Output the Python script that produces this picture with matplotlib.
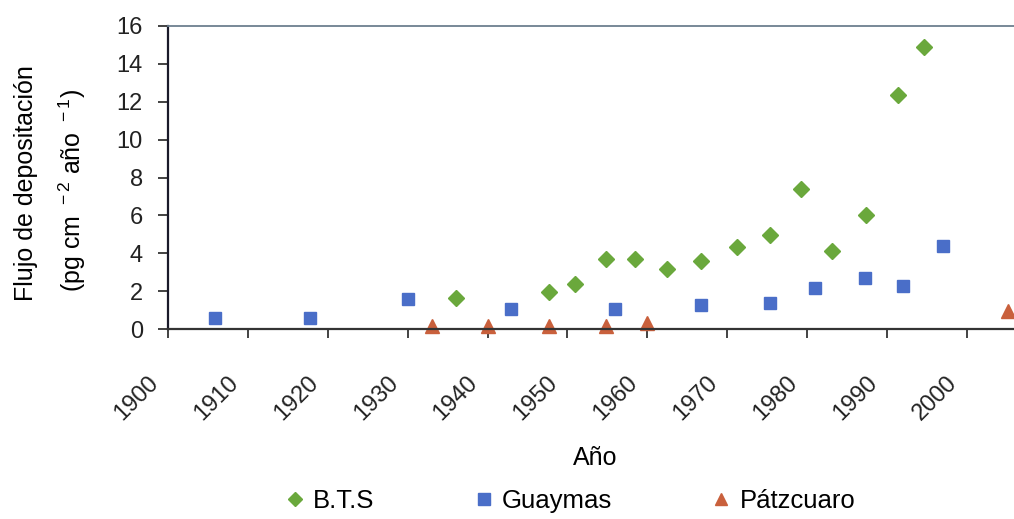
import matplotlib
matplotlib.use('Agg')
import matplotlib.pyplot as plt
from matplotlib.lines import Line2D
from matplotlib.transforms import ScaledTranslation

plt.rcParams['font.family'] = ['Liberation Sans', 'DejaVu Sans']
plt.rcParams['mathtext.fontset'] = 'custom'
plt.rcParams['mathtext.rm'] = 'Liberation Sans'

# B.T.S
bts_year = [1936, 1947.7, 1951, 1954.8, 1958.5, 1962.5, 1966.7, 1971.2, 1975.4,
            1979.2, 1983.1, 1987.4, 1991.4, 1994.6]
bts_flux = [1.64, 1.95, 2.38, 3.68, 3.68, 3.15, 3.57, 4.31, 4.95,
            7.38, 4.12, 6.02, 12.35, 14.9]

# Guaymas
guay_year = [1905.9, 1917.8, 1930, 1942.9, 1956, 1966.7, 1975.3, 1981, 1987.3, 1992, 1997]
guay_flux = [0.58, 0.6, 1.57, 1.04, 1.06, 1.28, 1.39, 2.16, 2.69, 2.27, 4.38]

# Pátzcuaro
patz_year = [1933.1, 1940, 1947.7, 1954.8, 1960, 2005.1]
patz_flux = [0.15, 0.15, 0.15, 0.15, 0.3, 0.95]

decades = list(range(1900, 2001, 10))
yticks = list(range(0, 17, 2))

c_bts = '#6aa83c'
c_guay = '#4a6ec8'
c_patz = '#c9603c'

fig = plt.figure(figsize=(10.14, 5.19), dpi=100)
ax = fig.add_axes([168/1014, 1-329/519, (1014-168)/1014, 303/519])

ax.plot(bts_year, bts_flux, 'D', color=c_bts, markersize=8, clip_on=False)
ax.plot(guay_year, guay_flux, 's', color=c_guay, markersize=8.6, clip_on=False)
ax.plot(patz_year, patz_flux, '^', color=c_patz, markersize=10, clip_on=False)

ax.set_xlim(1900, 2005.9)
ax.set_ylim(0, 16)
ax.set_xticks(decades)
ax.set_xticklabels([str(d) for d in decades], rotation=45, ha='right',
                   va='center', rotation_mode='anchor', fontsize=17)
ax.set_yticks(yticks)
ax.set_yticklabels([str(t) for t in yticks], fontsize=17)
ax.tick_params(axis='x', direction='out', length=6.5, width=1.2, pad=30, colors='#222222')
ax.tick_params(axis='y', direction='out', length=7.2, width=1.2, pad=10.8, colors='#222222')

# nudge the slanted year labels to the left like the original
shift = ScaledTranslation(-13/100, 0, fig.dpi_scale_trans)
for lab in ax.get_xticklabels():
    lab.set_transform(lab.get_transform() + shift)

ax.spines['right'].set_visible(False)
ax.spines['left'].set_color('#1a1a2a')
ax.spines['left'].set_linewidth(1.6)
ax.spines['bottom'].set_color('#333333')
ax.spines['bottom'].set_linewidth(1.6)
ax.spines['top'].set_color('#6d7f8f')
ax.spines['top'].set_linewidth(1.3)

fig.text(26/1014, 1-183/519, 'Flujo de depositación', rotation=90,
         ha='center', va='center', fontsize=18)
fig.text(72/1014, 1-190/519, r'(pg cm $^{\rm -2}$ año $^{\rm -1}$)', rotation=90,
         ha='center', va='center', fontsize=18)

fig.text(595/1014, 1-458/519, 'Año', ha='center', va='center', fontsize=18)

handles = [
    Line2D([], [], linestyle='none', marker='D', color=c_bts, markersize=7),
    Line2D([], [], linestyle='none', marker='s', color=c_guay, markersize=8),
    Line2D([], [], linestyle='none', marker='^', color=c_patz, markersize=8.5),
]
fig.legend(handles, ['B.T.S', 'Guaymas', 'Pátzcuaro'], loc='center',
           bbox_to_anchor=(570/1014, 1-501/519), ncol=3, frameon=False,
           fontsize=18.5, columnspacing=3.85, handletextpad=0.31, handlelength=0.8)

fig.savefig('out.png', dpi=100)
